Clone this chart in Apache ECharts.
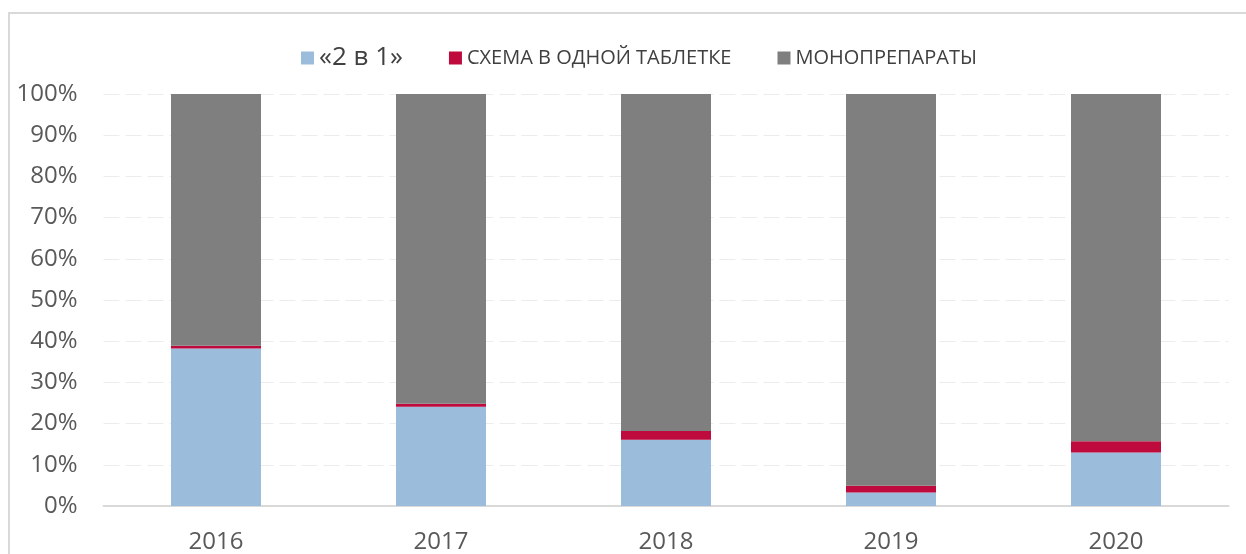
<!DOCTYPE html>
<html>
<head>
<meta charset="utf-8">
<style>
html,body{margin:0;padding:0;background:#fff;}
#frame{position:absolute;left:8px;top:12px;width:1300px;height:600px;border-left:2px solid #d9d9d9;border-top:2px solid #d9d9d9;}
#chart{position:absolute;left:0;top:0;width:1246px;height:554px;}
</style>
<script src="https://cdn.jsdelivr.net/npm/echarts@6/dist/echarts.min.js"></script>
</head>
<body>
<div id="frame"></div>
<div id="chart"></div>
<script>
const categories = ['2016', '2017', '2018', '2019', '2020'];
const twoInOne = [38.2, 24.1, 16.1, 3.3, 13.0];
const singlePill = [0.7, 0.7, 2.1, 1.6, 2.7];
const mono = [61.1, 75.2, 81.8, 95.1, 84.3];
const seriesNames = ['«2 в 1»', 'СХЕМА В ОДНОЙ ТАБЛЕТКЕ', 'МОНОПРЕПАРАТЫ'];
const colors = ['#9bbcdb', '#be0a3c', '#7f7f7f'];

const chart = echarts.init(document.getElementById('chart'), null, {renderer: 'canvas'});
const font = 'Open Sans';
function mk(name, data, color) {
  return {
    name: name, type: 'bar', stack: 'total', data: data,
    barWidth: '40%', itemStyle: {color: color}, emphasis: {disabled: true}
  };
}
chart.setOption({
  animation: false,
  textStyle: {fontFamily: font},
  legend: {
    top: 40, left: 296, padding: [5, 0, 5, 5], itemWidth: 13, itemHeight: 13, itemGap: 46,
    icon: 'rect',
    textStyle: {fontFamily: font, fontSize: 20, color: '#404040'},
    data: [
      {name: seriesNames[0], textStyle: {fontSize: 26}},
      {name: seriesNames[1]},
      {name: seriesNames[2]}
    ]
  },
  grid: {left: 103.5, right: 17.5, top: 94, bottom: 46, containLabel: false},
  xAxis: {
    type: 'category', data: categories,
    axisLine: {lineStyle: {color: '#d9d9d9', width: 2}},
    axisTick: {show: false},
    axisLabel: {fontFamily: font, fontSize: 24, color: '#595959', margin: 24}
  },
  yAxis: {
    type: 'value', min: 0, max: 100, interval: 10,
    axisLine: {show: false}, axisTick: {show: false},
    axisLabel: {formatter: '{value}%', fontFamily: font, fontSize: 24, color: '#595959', margin: 26},
    splitLine: {lineStyle: {color: '#ececec', width: 1, type: [16, 6]}}
  },
  series: [
    mk(seriesNames[0], twoInOne, colors[0]),
    mk(seriesNames[1], singlePill, colors[1]),
    mk(seriesNames[2], mono, colors[2])
  ]
});
</script>
</body>
</html>
